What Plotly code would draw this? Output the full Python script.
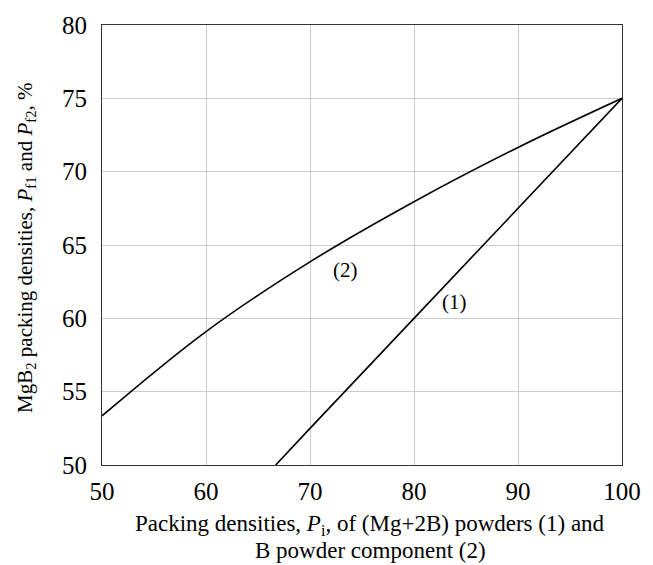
import plotly.graph_objects as go

# Curve (1): Mg+2B powders
x1 = [66.7, 70, 80, 90, 100]
y1 = [50.0, 52.5, 60.0, 67.5, 75.0]

# Curve (2): B powder component
x2 = [50, 60, 70, 80, 90, 100]
y2 = [53.35, 59.1, 63.85, 67.95, 71.65, 75.0]

labels = ["(1)", "(2)"]
label_x = [83.9, 73.4]
label_y = [61.1, 63.3]

xtitle_lines = ["Packing densities, <i>P</i><sub>i</sub>, of (Mg+2B) powders (1) and", "B powder component (2)"]
ytitle = "MgB<sub>2</sub> packing densities, <i>P</i><sub>f1</sub> and <i>P</i><sub>f2</sub>, %"

font = "Liberation Serif, Times New Roman, serif"

L, R, T, B = 102, 24, 15, 100
W, H = 653, 565
pw, ph = W - L - R, H - T - B

fig = go.Figure()
fig.add_trace(go.Scatter(x=x1, y=y1, mode="lines", line=dict(color="black", width=1.6), showlegend=False))
fig.add_trace(go.Scatter(x=x2, y=y2, mode="lines", line=dict(color="black", width=1.6, shape="spline", smoothing=1.0), showlegend=False))

for t, lx, ly in zip(labels, label_x, label_y):
    fig.add_annotation(x=lx, y=ly, text=t, showarrow=False, font=dict(family=font, size=21, color="black"))

# x-axis title as two lines
for line, py in zip(xtitle_lines, [526, 552]):
    fig.add_annotation(xref="paper", yref="paper", x=(374 - L) / pw, y=(H - B - py) / ph,
                       text=line, showarrow=False, xanchor="center", yanchor="middle",
                       font=dict(family=font, size=23, color="black"))

fig.add_annotation(xref="paper", yref="paper", x=(25 - L) / pw, y=(H - B - 243) / ph,
                   text=ytitle, showarrow=False, textangle=-90,
                   xanchor="center", yanchor="middle",
                   font=dict(family=font, size=21, color="black"))

fig.update_layout(
    width=W, height=H,
    margin=dict(l=L, r=R, t=T, b=B),
    plot_bgcolor="white", paper_bgcolor="white",
    font=dict(family=font, color="black"),
)
fig.update_xaxes(
    range=[50, 100], dtick=10, tick0=50,
    showgrid=True, gridcolor="#cccccc", gridwidth=1,
    showline=True, linecolor="#333333", linewidth=1.2, mirror=True,
    ticks="", ticklabelstandoff=4, tickfont=dict(family=font, size=25, color="black"),
    zeroline=False,
)
fig.update_yaxes(
    range=[50, 80], dtick=5, tick0=50,
    showgrid=True, gridcolor="#cccccc", gridwidth=1,
    showline=True, linecolor="#333333", linewidth=1.2, mirror=True,
    ticks="", ticklabelstandoff=9, tickfont=dict(family=font, size=25, color="black"),
    zeroline=False,
)

fig.write_html("out.html")
